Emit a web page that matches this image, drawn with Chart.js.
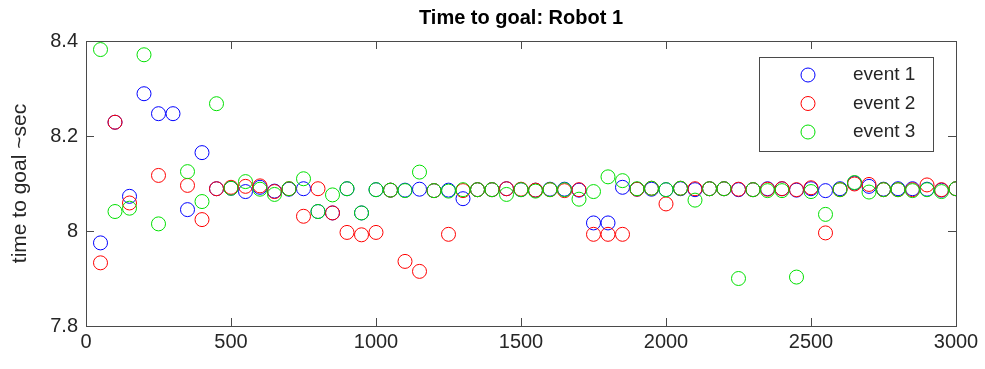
<!DOCTYPE html>
<html>
<head>
<meta charset="utf-8">
<script src="https://cdn.jsdelivr.net/npm/chart.js@4/dist/chart.umd.min.js"></script>
<style>
  html, body { margin: 0; padding: 0; background: #fff; }
  #wrap { width: 985px; height: 369px; }
</style>
</head>
<body>
<div id="wrap"><canvas id="chart" width="985" height="369"></canvas></div>
<script>
// x positions (run number)
const runs = [50, 100, 150, 200, 250, 300, 350, 400, 450, 500,
  550, 600, 650, 700, 750, 800, 850, 900, 950, 1000,
  1050, 1100, 1150, 1200, 1250, 1300, 1350, 1400, 1450, 1500,
  1550, 1600, 1650, 1700, 1750, 1800, 1850, 1900, 1950, 2000,
  2050, 2100, 2150, 2200, 2250, 2300, 2350, 2400, 2450, 2500,
  2550, 2600, 2650, 2700, 2750, 2800, 2850, 2900, 2950, 3000];

// time to goal per event (sec)
const event1 = [7.975, 8.229, 8.073, 8.289, 8.247, 8.247, 8.045, 8.165, 8.089, 8.090,
  8.083, 8.092, 8.084, 8.088, 8.089, 8.041, 8.038, 8.089, 8.038, 8.087,
  8.086, 8.086, 8.088, 8.085, 8.086, 8.068, 8.087, 8.087, 8.089, 8.087,
  8.086, 8.088, 8.088, 8.086, 8.017, 8.017, 8.092, 8.088, 8.088, 8.087,
  8.089, 8.087, 8.089, 8.089, 8.087, 8.087, 8.089, 8.089, 8.086, 8.089,
  8.085, 8.089, 8.101, 8.094, 8.088, 8.089, 8.089, 8.088, 8.086, 8.089];

const event2 = [7.933, 8.229, 8.059, null, 8.117, null, 8.096, 8.024, 8.089, 8.092,
  8.094, 8.095, 8.083, 8.089, 8.031, 8.089, 8.038, 7.997, 7.992, 7.997,
  8.086, 7.936, 7.915, 8.085, 7.993, 8.085, 8.087, 8.087, 8.089, 8.088,
  8.086, 8.087, 8.085, 8.087, 7.993, 7.993, 7.993, 8.088, 8.090, 8.057,
  8.090, 8.089, 8.089, 8.089, 8.088, 8.087, 8.088, 8.089, 8.087, 8.091,
  7.996, 8.087, 8.099, 8.098, 8.087, 8.087, 8.087, 8.097, 8.087, 8.089];

const event3 = [8.382, 8.041, 8.048, 8.371, 8.015, null, 8.125, 8.062, 8.268, 8.090,
  8.104, 8.088, 8.077, 8.089, 8.110, 8.041, 8.076, 8.089, 8.038, 8.087,
  8.086, 8.085, 8.124, 8.085, 8.084, 8.087, 8.087, 8.087, 8.077, 8.087,
  8.084, 8.087, 8.087, 8.067, 8.083, 8.114, 8.106, 8.089, 8.090, 8.087,
  8.090, 8.065, 8.089, 8.089, 7.900, 8.087, 8.085, 8.085, 7.903, 8.083,
  8.035, 8.087, 8.102, 8.082, 8.087, 8.087, 8.085, 8.087, 8.083, 8.089];

const seriesNames = ['event 1', 'event 2', 'event 3'];
const seriesColors = ['#0000ff', '#ff0000', '#00e000'];
const chartTitle = 'Time to goal: Robot 1';

const axisColor = '#4a4a4a';
const textColor = '#262626';
const fontFamily = '"Liberation Sans", Arial, sans-serif';

function toPoints(values) {
  return runs.map((x, i) => ({ x: x, y: values[i] }));
}

// box round the plot with inward ticks, like matlab
const boxPlugin = {
  id: 'box',
  afterDatasetsDraw(chart) {
    const ctx = chart.ctx;
    const a = chart.chartArea;
    const xs = chart.scales.x;
    const ys = chart.scales.y;
    const len = 8;
    ctx.save();
    ctx.strokeStyle = axisColor;
    ctx.lineWidth = 1;
    ctx.beginPath();
    xs.ticks.forEach(t => {
      const px = Math.round(xs.getPixelForValue(t.value)) + 0.5;
      ctx.moveTo(px, a.bottom); ctx.lineTo(px, a.bottom - len);
      ctx.moveTo(px, a.top); ctx.lineTo(px, a.top + len);
    });
    ys.ticks.forEach(t => {
      const py = Math.round(ys.getPixelForValue(t.value)) + 0.5;
      ctx.moveTo(a.left, py); ctx.lineTo(a.left + len, py);
      ctx.moveTo(a.right, py); ctx.lineTo(a.right - len, py);
    });
    ctx.stroke();
    ctx.strokeRect(Math.round(a.left) + 0.5, Math.round(a.top) + 0.5,
      Math.round(a.right - a.left), Math.round(a.bottom - a.top));

    // title centred over the plot area
    ctx.fillStyle = '#000';
    ctx.font = 'bold 20px ' + fontFamily;
    ctx.textAlign = 'center';
    ctx.textBaseline = 'middle';
    ctx.fillText(chartTitle, (a.left + a.right) / 2, 18);
    ctx.restore();
  }
};

// legend box in the top right corner of the plot
const legendPlugin = {
  id: 'boxLegend',
  afterDraw(chart) {
    const ctx = chart.ctx;
    const a = chart.chartArea;
    const w = 174, h = 94;
    const x0 = a.right - 23 - w;
    const y0 = a.top + 16;
    ctx.save();
    ctx.fillStyle = '#fff';
    ctx.fillRect(x0, y0, w, h);
    ctx.strokeStyle = axisColor;
    ctx.lineWidth = 1;
    ctx.strokeRect(x0 + 0.5, y0 + 0.5, w, h);
    ctx.font = '19px ' + fontFamily;
    ctx.textBaseline = 'middle';
    ctx.fillStyle = textColor;
    chart.data.datasets.forEach((ds, i) => {
      const cy = y0 + 18 + i * 28.5;
      ctx.beginPath();
      ctx.strokeStyle = ds.borderColor;
      ctx.arc(x0 + 49, cy, 7, 0, Math.PI * 2);
      ctx.stroke();
      ctx.fillText(ds.label, x0 + 94, cy);
    });
    ctx.restore();
  }
};

const datasets = [event1, event2, event3].map((values, i) => ({
  label: seriesNames[i],
  data: toPoints(values),
  borderColor: seriesColors[i],
  backgroundColor: 'rgba(0,0,0,0)',
  pointStyle: 'circle',
  pointRadius: 7,
  pointBorderWidth: 1,
  showLine: false,
  order: 2 - i
}));

new Chart(document.getElementById('chart'), {
  type: 'scatter',
  data: { datasets: datasets },
  options: {
    responsive: false,
    animation: false,
    layout: { padding: { left: 8, right: 29, top: 41, bottom: 0 } },
    plugins: {
      legend: { display: false },
      tooltip: { enabled: false },
      title: { display: false }
    },
    scales: {
      x: {
        type: 'linear',
        min: 0,
        max: 3000,
        ticks: {
          stepSize: 500,
          color: textColor,
          padding: 4,
          maxRotation: 0,
          font: { family: fontFamily, size: 20 },
          callback: v => String(v)
        },
        grid: { display: false, drawTicks: false },
        border: { display: false },
        afterFit(scale) { scale.height = 43; }
      },
      y: {
        type: 'linear',
        min: 7.8,
        max: 8.4,
        ticks: {
          stepSize: 0.2,
          color: textColor,
          padding: 8,
          font: { family: fontFamily, size: 20 },
          callback: v => String(Number(v.toFixed(1)))
        },
        grid: { display: false, drawTicks: false },
        border: { display: false },
        title: {
          display: true,
          text: 'time to goal ~sec',
          color: textColor,
          padding: { top: 0, bottom: 2 },
          font: { family: fontFamily, size: 21 }
        },
        afterFit(scale) { scale.width = 78; }
      }
    }
  },
  plugins: [boxPlugin, legendPlugin]
});
</script>
</body>
</html>
